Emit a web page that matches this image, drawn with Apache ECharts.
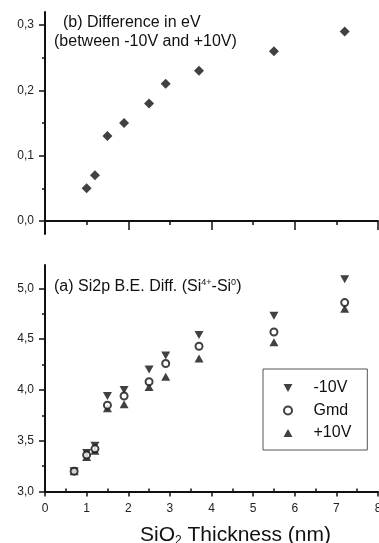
<!DOCTYPE html>
<html>
<head>
<meta charset="utf-8">
<script src="https://cdn.jsdelivr.net/npm/echarts@6/dist/echarts.min.js"></script>
<style>
html,body{margin:0;padding:0;background:#fff;}
#chart{width:379px;height:543px;}
</style>
</head>
<body>
<div id="chart"></div>
<script>
// ---- data ----
var thicknessDiff = [1.0, 1.2, 1.5, 1.9, 2.5, 2.9, 3.7, 5.5, 7.2];
var diffValues    = [0.05, 0.07, 0.13, 0.15, 0.18, 0.21, 0.23, 0.26, 0.29];

var thickness = [0.7, 1.0, 1.2, 1.5, 1.9, 2.5, 2.9, 3.7, 5.5, 7.2];
var minus10V  = [3.20, 3.38, 3.45, 3.94, 4.00, 4.20, 4.34, 4.54, 4.73, 5.09];
var gmd       = [3.20, 3.36, 3.42, 3.85, 3.94, 4.08, 4.26, 4.43, 4.57, 4.86];
var plus10V   = [3.20, 3.34, 3.40, 3.82, 3.86, 4.03, 4.13, 4.31, 4.47, 4.80];

var seriesNames = ['-10V', 'Gmd', '+10V'];
var topMajorY = [0, 0.1, 0.2, 0.3];
var topMinorY = [0.05, 0.15, 0.25];
var botMajorY = [3.0, 3.5, 4.0, 4.5, 5.0];
var botMinorY = [3.25, 3.75, 4.25, 4.75];
var topMajorX = [0, 2, 4, 6, 8];
var topMinorX = [1, 3, 5, 7];
var botMinorX = [0.5, 1.5, 2.5, 3.5, 4.5, 5.5, 6.5, 7.5];

function pairs(xs, ys) { return xs.map(function (x, i) { return [x, ys[i]]; }); }
function comma(v) { return v.toFixed(1).replace('.', ','); }

var FONT = 'Liberation Sans, Arial, sans-serif';
var INK = '#111';
var axisLine = { show: true, lineStyle: { color: INK, width: 2 } };
var noLine = { show: false };
var labelStyle = { color: '#222', fontSize: 12, fontFamily: FONT };

var chart = echarts.init(document.getElementById('chart'), null, { renderer: 'canvas' });
chart.setOption({
  animation: false,
  backgroundColor: '#fff',
  textStyle: { fontFamily: FONT },
  title: [
    { text: '(b) Difference in eV', left: 63, top: 15, padding: 0,
      textStyle: { fontSize: 16, fontWeight: 'normal', color: INK, fontFamily: FONT } },
    { text: '(between -10V and +10V)', left: 54, top: 34, padding: 0,
      textStyle: { fontSize: 16, fontWeight: 'normal', color: INK, fontFamily: FONT } },
    { text: '(a) Si2p B.E. Diff. (Si{sup|4+}-Si{sup|0})', left: 54, top: 278, padding: 0,
      textStyle: { fontSize: 16, fontWeight: 'normal', color: INK, fontFamily: FONT, lineHeight: 18,
        rich: { sup: { fontSize: 9, verticalAlign: 'top', lineHeight: 18, color: INK, fontFamily: FONT } } } }
  ],
  grid: [
    { left: 45, width: 333, top: 12, height: 222, outerBoundsMode: 'none', containLabel: false },
    { left: 45, width: 333, top: 265, height: 226.5, outerBoundsMode: 'none', containLabel: false }
  ],
  xAxis: [
    { gridIndex: 0, type: 'value', position: 'bottom', min: 0, max: 8,
      axisLine: axisLine, splitLine: { show: false }, axisLabel: { show: false },
      axisTick: { show: true, customValues: topMajorX, length: 9, lineStyle: { color: INK, width: 1.5 } } },
    { gridIndex: 0, type: 'value', position: 'bottom', min: 0, max: 8,
      axisLine: noLine, splitLine: { show: false }, axisLabel: { show: false },
      axisTick: { show: true, customValues: topMinorX, length: 4, lineStyle: { color: INK, width: 1.5 } } },
    { gridIndex: 1, type: 'value', position: 'bottom', min: 0, max: 8, interval: 1,
      axisLine: axisLine, splitLine: { show: false },
      axisLabel: Object.assign({ margin: 11 }, labelStyle),
      axisTick: { show: true, length: 5, lineStyle: { color: INK, width: 1.5 } },
      name: 'SiO{sub|2} Thickness (nm)', nameLocation: 'middle', nameGap: 32,
      nameTextStyle: { fontSize: 21, color: INK, fontFamily: FONT, padding: [0, 0, 0, 48], lineHeight: 23,
        rich: { sub: { fontSize: 12, verticalAlign: 'bottom', lineHeight: 23, color: INK, fontFamily: FONT } } } },
    { gridIndex: 1, type: 'value', position: 'bottom', min: 0, max: 8,
      axisLine: noLine, splitLine: { show: false }, axisLabel: { show: false },
      axisTick: { show: true, inside: true, customValues: botMinorX, length: 3, lineStyle: { color: INK, width: 1.5 } } }
  ],
  yAxis: [
    { gridIndex: 0, type: 'value', position: 'left', min: -0.02, max: 0.32,
      axisLine: axisLine, splitLine: { show: false },
      axisTick: { show: true, customValues: topMajorY, length: 6, lineStyle: { color: INK, width: 1.5 } },
      axisLabel: Object.assign({ customValues: topMajorY, margin: 11, formatter: comma }, labelStyle) },
    { gridIndex: 0, type: 'value', position: 'left', min: -0.02, max: 0.32,
      axisLine: noLine, splitLine: { show: false }, axisLabel: { show: false },
      axisTick: { show: true, customValues: topMinorY, length: 3, lineStyle: { color: INK, width: 1.5 } } },
    { gridIndex: 1, type: 'value', position: 'left', min: 3.0, max: 5.23,
      axisLine: axisLine, splitLine: { show: false },
      axisTick: { show: true, customValues: botMajorY, length: 6, lineStyle: { color: INK, width: 1.5 } },
      axisLabel: Object.assign({ customValues: botMajorY, margin: 11, formatter: comma }, labelStyle) },
    { gridIndex: 1, type: 'value', position: 'left', min: 3.0, max: 5.23,
      axisLine: noLine, splitLine: { show: false }, axisLabel: { show: false },
      axisTick: { show: true, customValues: botMinorY, length: 3, lineStyle: { color: INK, width: 1.5 } } }
  ],
  legend: {
    data: seriesNames, orient: 'vertical', left: 263, top: 369,
    padding: [10, 16, 8, 20], itemWidth: 41, itemHeight: 8, itemGap: 4.5,
    selectedMode: false,
    borderColor: '#555', borderWidth: 1, backgroundColor: '#fff',
    textStyle: { fontSize: 16, lineHeight: 18, color: INK, fontFamily: FONT }
  },
  series: [
    { name: 'diff', type: 'scatter', xAxisIndex: 0, yAxisIndex: 0,
      data: pairs(thicknessDiff, diffValues), symbol: 'diamond', symbolSize: 10,
      itemStyle: { color: INK } },
    { name: '-10V', type: 'scatter', xAxisIndex: 2, yAxisIndex: 2,
      data: pairs(thickness, minus10V), symbol: 'path://M0,0 L10,0 L5,9 Z', symbolSize: [9, 8],
      itemStyle: { color: INK } },
    { name: '+10V', type: 'scatter', xAxisIndex: 2, yAxisIndex: 2,
      data: pairs(thickness, plus10V), symbol: 'path://M5,0 L10,9 L0,9 Z', symbolSize: [9, 8],
      itemStyle: { color: INK } },
    { name: 'Gmd', type: 'scatter', xAxisIndex: 2, yAxisIndex: 2,
      data: pairs(thickness, gmd), symbol: 'emptyCircle', symbolSize: 7,
      itemStyle: { color: INK, borderColor: INK, borderWidth: 1.3 } }
  ]
});
</script>
</body>
</html>
